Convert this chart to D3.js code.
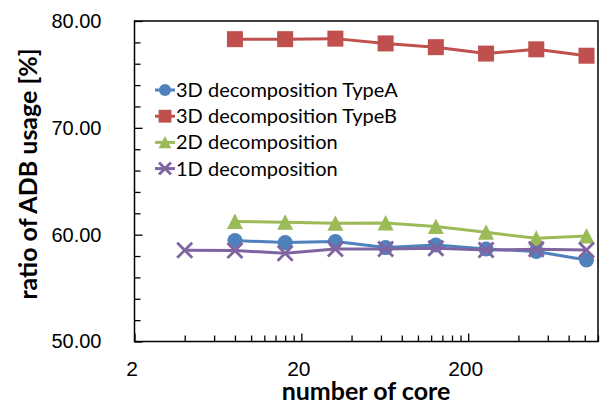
<!DOCTYPE html>
<html>
<head>
<meta charset="utf-8">
<script src="https://cdn.jsdelivr.net/npm/d3@7"></script>
<style>
  body { margin: 0; background: #fff; }
  svg { font-family: Lato, "Liberation Sans", sans-serif; }
</style>
</head>
<body>
<div class="chart"></div>
<script>
// number of cores (x, log scale)
const cores1D = [4, 8, 16, 32, 64, 128, 256, 512, 1024];
const cores = [8, 16, 32, 64, 128, 256, 512, 1024];

// ratio of ADB usage [%]
const typeA = [59.45, 59.26, 59.35, 58.79, 59.03, 58.66, 58.42, 57.63];
const typeB = [78.30, 78.30, 78.35, 77.90, 77.55, 76.95, 77.35, 76.75];
const twoD = [61.23, 61.16, 61.07, 61.10, 60.76, 60.22, 59.66, 59.88];
const oneD = [58.54, 58.51, 58.26, 58.66, 58.66, 58.73, 58.57, 58.63, 58.57];

const names = ["3D decomposition TypeA", "3D decomposition TypeB", "2D decomposition", "1D decomposition"];
const xTicks = [2, 20, 200];
const yTicks = [50, 60, 70, 80];

function drawChart() {
  const width = 605;
  const height = 408;
  const plot = {left: 134.5, right: 598, top: 21, bottom: 341.5};

  const colors = ["#4f81bd", "#c0504d", "#9bbb59", "#8064a2"];
  const shapes = ["circle", "square", "triangle", "cross"];

  const series = [
    {name: names[0], xs: cores, ys: typeA},
    {name: names[1], xs: cores, ys: typeB},
    {name: names[2], xs: cores, ys: twoD},
    {name: names[3], xs: cores1D, ys: oneD}
  ];

  const svg = d3.select(".chart").append("svg")
    .attr("width", width)
    .attr("height", height);

  const xScale = d3.scaleLog()
    .domain([2, 1200])
    .range([plot.left, plot.right]);

  const yScale = d3.scaleLinear()
    .domain([50, 80])
    .range([plot.bottom, plot.top]);

  // minor ticks: every 2 on y, 2k*10^n on x
  const yMinor = d3.range(52, 80, 2).filter(v => v % 10 != 0);
  let xMinor = [];
  for (const base of [2, 20, 200]) {
    for (let k = 2; k <= 9; k++) {
      if (base * k <= 1200) xMinor.push(base * k);
    }
  }

  const yAxis = d3.axisLeft(yScale)
    .tickValues(yTicks)
    .tickSize(-8)
    .tickPadding(33)
    .tickFormat(d3.format(".2f"));
  const yAxisMinor = d3.axisLeft(yScale)
    .tickValues(yMinor)
    .tickSize(-6)
    .tickFormat("");

  const xAxis = d3.axisBottom(xScale)
    .tickValues(xTicks)
    .tickSize(-8)
    .tickFormat(d3.format("d"));
  const xAxisMinor = d3.axisBottom(xScale)
    .tickValues(xMinor)
    .tickSize(-6)
    .tickFormat("");

  const gy = svg.append("g")
    .attr("transform", `translate(${plot.left}, 0)`)
    .call(yAxis);
  svg.append("g")
    .attr("transform", `translate(${plot.left}, 0)`)
    .call(yAxisMinor);
  const gx = svg.append("g")
    .attr("transform", `translate(0, ${plot.bottom})`)
    .call(xAxis);
  svg.append("g")
    .attr("transform", `translate(0, ${plot.bottom})`)
    .call(xAxisMinor);

  svg.selectAll(".domain").remove();
  svg.selectAll(".tick line").attr("stroke", "#000").attr("stroke-width", 1.3);

  gy.selectAll("text")
    .attr("font-size", 20)
    .attr("fill", "#000");
  gx.selectAll("text")
    .attr("font-size", 21)
    .attr("fill", "#000")
    .attr("dy", null)
    .attr("y", 34)
    .attr("x", -3);

  // plot area border
  svg.append("rect")
    .attr("x", plot.left)
    .attr("y", plot.top)
    .attr("width", plot.right - plot.left)
    .attr("height", plot.bottom - plot.top)
    .attr("fill", "none")
    .attr("stroke", "#000")
    .attr("stroke-width", 1.5);

  const line = d3.line()
    .x(d => xScale(d[0]))
    .y(d => yScale(d[1]));

  function marker(g, shape, color, cx, cy, s) {
    if (shape == "circle") {
      g.append("circle").attr("cx", cx).attr("cy", cy).attr("r", 7.5 * s).attr("fill", color);
    } else if (shape == "square") {
      g.append("rect").attr("x", cx - 8 * s).attr("y", cy - 8 * s)
        .attr("width", 16 * s).attr("height", 16 * s).attr("fill", color);
    } else if (shape == "triangle") {
      const h = 8 * s;
      g.append("path")
        .attr("d", `M${cx},${cy - h}L${cx + h},${cy + h - 0.5}L${cx - h},${cy + h - 0.5}Z`)
        .attr("fill", color);
    } else {
      const h = 7.5 * s;
      g.append("path")
        .attr("d", `M${cx - h},${cy - h}L${cx + h},${cy + h}M${cx - h},${cy + h}L${cx + h},${cy - h}`)
        .attr("stroke", color)
        .attr("stroke-width", 2.8)
        .attr("fill", "none");
    }
  }

  series.forEach((sr, i) => {
    const pts = sr.xs.map((x, j) => [x, sr.ys[j]]);
    const g = svg.append("g");
    g.append("path")
      .attr("fill", "none")
      .attr("stroke", colors[i])
      .attr("stroke-width", 3)
      .attr("stroke-linejoin", "round")
      .attr("d", line(pts));
    pts.forEach(p => marker(g, shapes[i], colors[i], xScale(p[0]), yScale(p[1]), 1));
  });

  // legend
  const legend = svg.append("g");
  series.forEach((sr, i) => {
    const ly = 90 + i * 26.2;
    legend.append("line")
      .attr("x1", 155).attr("x2", 175)
      .attr("y1", ly).attr("y2", ly)
      .attr("stroke", colors[i])
      .attr("stroke-width", 3);
    marker(legend, shapes[i], colors[i], 165, ly, 0.8);
    legend.append("text")
      .attr("x", 176)
      .attr("y", ly)
      .attr("dy", "0.35em")
      .attr("font-size", 20)
      .attr("fill", "#000")
      .text(sr.name);
  });

  // axis titles
  svg.append("text")
    .attr("x", 366)
    .attr("y", 400)
    .attr("text-anchor", "middle")
    .attr("font-size", 25)
    .attr("font-weight", "bold")
    .text("number of core");

  svg.append("text")
    .attr("transform", "translate(37, 174) rotate(-90)")
    .attr("text-anchor", "middle")
    .attr("font-size", 25)
    .attr("font-weight", "bold")
    .text("ratio of ADB usage [%]");
}

drawChart();
</script>
</body>
</html>
